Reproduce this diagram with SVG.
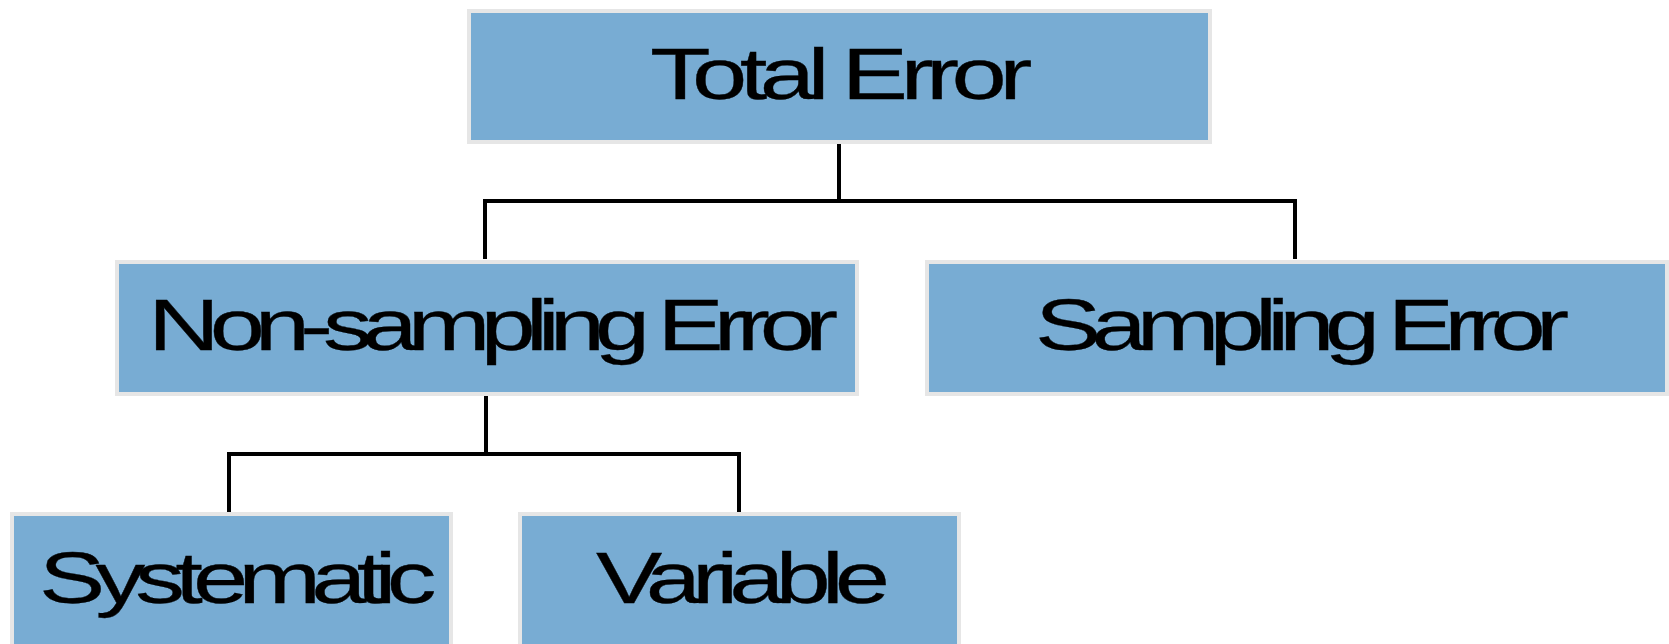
<svg xmlns="http://www.w3.org/2000/svg" width="1669" height="644" viewBox="0 0 1669 644">
  <style>
    .box { fill: #78acd3; stroke: #e6e6e6; stroke-width: 4; }
    .label { font-family: "Liberation Sans", Arial, sans-serif; font-size: 72px; fill: #000; stroke: #000; stroke-width: 0.3; }
    .link { fill: none; stroke: #000; stroke-width: 4; }
  </style>
  <rect width="1669" height="644" fill="#ffffff"/>

  <!-- tree connectors -->
  <g id="connectors">
    <path class="link" d="M839,143 V201 M485,201 H1295 M485,199 V259 M1295,199 V259"/>
    <path class="link" d="M486,395 V454 M229,454 H739 M229,452 V513 M739,452 V513"/>
  </g>

  <g id="total-error">
    <rect class="box" x="469" y="11" width="741" height="131"/>
    <text class="label" transform="translate(650,99) scale(1.38,1)" textLength="277" lengthAdjust="spacing">Total Error</text>
  </g>

  <g id="non-sampling-error">
    <rect class="box" x="117" y="262" width="740" height="132"/>
    <text class="label" transform="translate(148,350) scale(1.38,1)" textLength="500" lengthAdjust="spacing">Non-sampling Error</text>
  </g>

  <g id="sampling-error">
    <rect class="box" x="927" y="262" width="740" height="132"/>
    <text class="label" transform="translate(1035,350) scale(1.38,1)" textLength="387" lengthAdjust="spacing">Sampling Error</text>
  </g>

  <g id="systematic">
    <rect class="box" x="12" y="514" width="439" height="140"/>
    <text class="label" transform="translate(39,603) scale(1.38,1)" textLength="288" lengthAdjust="spacing">Systematic</text>
  </g>

  <g id="variable">
    <rect class="box" x="520" y="514" width="439" height="140"/>
    <text class="label" transform="translate(596,603) scale(1.38,1)" textLength="213" lengthAdjust="spacing">Variable</text>
  </g>
</svg>
